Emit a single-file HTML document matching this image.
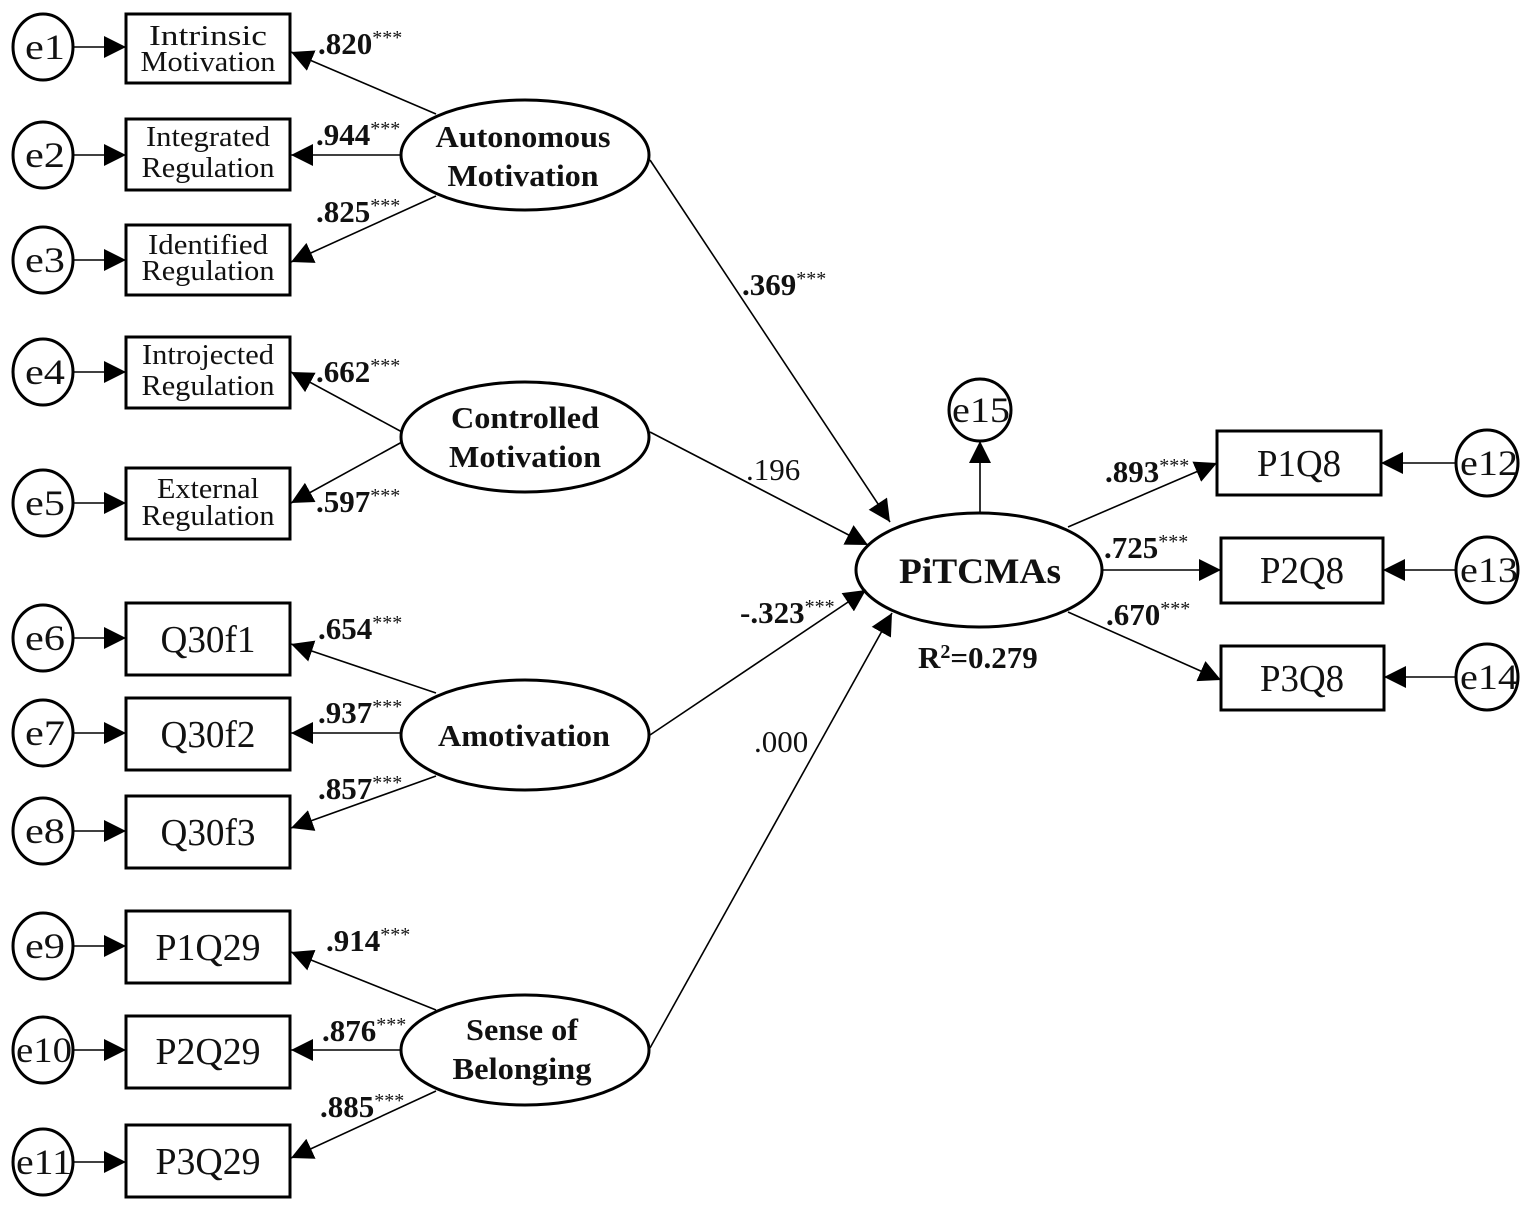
<!DOCTYPE html>
<html><head><meta charset="utf-8"><style>
html,body{margin:0;padding:0;background:#fff}
svg{display:block}
text{font-family:"Liberation Serif","Times New Roman",serif;fill:#111}
.b{font-weight:bold}
</style></head><body>
<svg width="1535" height="1205" viewBox="0 0 1535 1205" xmlns="http://www.w3.org/2000/svg">
<defs>
<marker id="a" markerUnits="userSpaceOnUse" markerWidth="24" markerHeight="22" refX="22" refY="11" orient="auto">
<path d="M0,0 L22,11 L0,22 Z" fill="#000"/></marker>
</defs>
<g stroke="#000" fill="none">
<g stroke-width="3">
<ellipse cx="43" cy="47" rx="30" ry="33"/>
<ellipse cx="43" cy="155" rx="30" ry="33"/>
<ellipse cx="43" cy="260" rx="30" ry="33"/>
<ellipse cx="43" cy="372" rx="30" ry="33"/>
<ellipse cx="43" cy="503" rx="30" ry="33"/>
<ellipse cx="43" cy="638" rx="30" ry="33"/>
<ellipse cx="43" cy="733" rx="30" ry="33"/>
<ellipse cx="43" cy="831" rx="30" ry="33"/>
<ellipse cx="43" cy="946" rx="30" ry="33"/>
<ellipse cx="43" cy="1050" rx="30" ry="33"/>
<ellipse cx="43" cy="1162" rx="30" ry="33"/>
<rect x="126" y="14" width="164" height="69"/>
<rect x="126" y="119" width="164" height="71"/>
<rect x="126" y="225" width="164" height="70"/>
<rect x="126" y="337" width="164" height="71"/>
<rect x="126" y="468" width="164" height="71"/>
<rect x="126" y="603" width="164" height="72"/>
<rect x="126" y="698" width="164" height="72"/>
<rect x="126" y="796" width="164" height="72"/>
<rect x="126" y="911" width="164" height="72"/>
<rect x="126" y="1016" width="164" height="72"/>
<rect x="126" y="1125" width="164" height="72"/>
<ellipse cx="525" cy="155" rx="124" ry="55"/>
<ellipse cx="525" cy="437" rx="124" ry="55"/>
<ellipse cx="525" cy="735" rx="124" ry="55"/>
<ellipse cx="525" cy="1050" rx="124" ry="55"/>
<ellipse cx="979" cy="570" rx="123" ry="57"/>
<ellipse cx="980" cy="410" rx="31" ry="31"/>
<ellipse cx="1487" cy="463" rx="31" ry="33"/>
<ellipse cx="1487" cy="570" rx="31" ry="33"/>
<ellipse cx="1487" cy="677" rx="31" ry="33"/>
<rect x="1217" y="431" width="164" height="64"/>
<rect x="1221" y="538" width="162" height="65"/>
<rect x="1221" y="646" width="163" height="64"/>
</g>
<g stroke-width="1.6" marker-end="url(#a)">
<line x1="73" y1="47" x2="126" y2="47"/>
<line x1="73" y1="155" x2="126" y2="155"/>
<line x1="73" y1="260" x2="126" y2="260"/>
<line x1="73" y1="372" x2="126" y2="372"/>
<line x1="73" y1="503" x2="126" y2="503"/>
<line x1="73" y1="638" x2="126" y2="638"/>
<line x1="73" y1="733" x2="126" y2="733"/>
<line x1="73" y1="831" x2="126" y2="831"/>
<line x1="73" y1="946" x2="126" y2="946"/>
<line x1="73" y1="1050" x2="126" y2="1050"/>
<line x1="73" y1="1162" x2="126" y2="1162"/>
<line x1="436" y1="114" x2="291" y2="52"/>
<line x1="401" y1="155" x2="291" y2="155"/>
<line x1="436" y1="196" x2="291" y2="262"/>
<line x1="402" y1="432" x2="291" y2="372"/>
<line x1="402" y1="442" x2="291" y2="503"/>
<line x1="436" y1="693" x2="291" y2="644"/>
<line x1="401" y1="733" x2="291" y2="733"/>
<line x1="436" y1="776" x2="291" y2="828"/>
<line x1="436" y1="1010" x2="291" y2="952"/>
<line x1="401" y1="1050" x2="291" y2="1050"/>
<line x1="436" y1="1091" x2="291" y2="1158"/>
<line x1="650" y1="160" x2="890" y2="522"/>
<line x1="650" y1="432" x2="868" y2="545"/>
<line x1="650" y1="735" x2="866" y2="590"/>
<line x1="650" y1="1048" x2="892" y2="613"/>
<line x1="980" y1="513" x2="980" y2="441"/>
<line x1="1068" y1="527" x2="1217" y2="463"/>
<line x1="1102" y1="570" x2="1221" y2="570"/>
<line x1="1068" y1="612" x2="1221" y2="680"/>
<line x1="1456" y1="463" x2="1381" y2="463"/>
<line x1="1456" y1="570" x2="1383" y2="570"/>
<line x1="1456" y1="677" x2="1384" y2="677"/>
</g>
</g>
<g font-size="36" text-anchor="middle" lengthAdjust="spacingAndGlyphs">
<text x="45" y="59" textLength="40" lengthAdjust="spacingAndGlyphs">e1</text>
<text x="45" y="167" textLength="40" lengthAdjust="spacingAndGlyphs">e2</text>
<text x="45" y="272" textLength="40" lengthAdjust="spacingAndGlyphs">e3</text>
<text x="45" y="384" textLength="40" lengthAdjust="spacingAndGlyphs">e4</text>
<text x="45" y="515" textLength="40" lengthAdjust="spacingAndGlyphs">e5</text>
<text x="45" y="650" textLength="40" lengthAdjust="spacingAndGlyphs">e6</text>
<text x="45" y="745" textLength="40" lengthAdjust="spacingAndGlyphs">e7</text>
<text x="45" y="843" textLength="40" lengthAdjust="spacingAndGlyphs">e8</text>
<text x="45" y="958" textLength="40" lengthAdjust="spacingAndGlyphs">e9</text>
<text x="44" y="1062" textLength="56" lengthAdjust="spacingAndGlyphs">e10</text>
<text x="44" y="1174" textLength="56" lengthAdjust="spacingAndGlyphs">e11</text>
<text x="981" y="422" textLength="58" lengthAdjust="spacingAndGlyphs">e15</text>
<text x="1489" y="475" textLength="58" lengthAdjust="spacingAndGlyphs">e12</text>
<text x="1489" y="582" textLength="58" lengthAdjust="spacingAndGlyphs">e13</text>
<text x="1489" y="689" textLength="58" lengthAdjust="spacingAndGlyphs">e14</text>
</g>
<g font-size="28" text-anchor="middle">
<text x="208" y="45" textLength="118" lengthAdjust="spacingAndGlyphs">Intrinsic</text>
<text x="208" y="71" textLength="135" lengthAdjust="spacingAndGlyphs">Motivation</text>
<text x="208" y="146" textLength="124" lengthAdjust="spacingAndGlyphs">Integrated</text>
<text x="208" y="177" textLength="133" lengthAdjust="spacingAndGlyphs">Regulation</text>
<text x="208" y="254" textLength="120" lengthAdjust="spacingAndGlyphs">Identified</text>
<text x="208" y="280" textLength="133" lengthAdjust="spacingAndGlyphs">Regulation</text>
<text x="208" y="364" textLength="132" lengthAdjust="spacingAndGlyphs">Introjected</text>
<text x="208" y="395" textLength="133" lengthAdjust="spacingAndGlyphs">Regulation</text>
<text x="208" y="498" textLength="102" lengthAdjust="spacingAndGlyphs">External</text>
<text x="208" y="525" textLength="133" lengthAdjust="spacingAndGlyphs">Regulation</text>
</g>
<g font-size="38" text-anchor="middle">
<text x="208" y="652" textLength="95" lengthAdjust="spacingAndGlyphs">Q30f1</text>
<text x="208" y="747" textLength="95" lengthAdjust="spacingAndGlyphs">Q30f2</text>
<text x="208" y="845" textLength="95" lengthAdjust="spacingAndGlyphs">Q30f3</text>
<text x="208" y="960" textLength="105" lengthAdjust="spacingAndGlyphs">P1Q29</text>
<text x="208" y="1064" textLength="105" lengthAdjust="spacingAndGlyphs">P2Q29</text>
<text x="208" y="1174" textLength="105" lengthAdjust="spacingAndGlyphs">P3Q29</text>
<text x="1299" y="476" textLength="84" lengthAdjust="spacingAndGlyphs">P1Q8</text>
<text x="1302" y="583" textLength="84" lengthAdjust="spacingAndGlyphs">P2Q8</text>
<text x="1302" y="691" textLength="84" lengthAdjust="spacingAndGlyphs">P3Q8</text>
</g>
<g font-size="31" text-anchor="middle" font-weight="bold">
<text x="523" y="147" textLength="175" lengthAdjust="spacingAndGlyphs">Autonomous</text>
<text x="523" y="186" textLength="151" lengthAdjust="spacingAndGlyphs">Motivation</text>
<text x="525" y="428" textLength="148" lengthAdjust="spacingAndGlyphs">Controlled</text>
<text x="525" y="467" textLength="152" lengthAdjust="spacingAndGlyphs">Motivation</text>
<text x="524" y="746" textLength="172" lengthAdjust="spacingAndGlyphs">Amotivation</text>
<text x="522" y="1040" textLength="112" lengthAdjust="spacingAndGlyphs">Sense of</text>
<text x="522" y="1079" textLength="139" lengthAdjust="spacingAndGlyphs">Belonging</text>
<text x="980" y="583" font-size="36" textLength="162" lengthAdjust="spacingAndGlyphs">PiTCMAs</text>
</g>
<g font-size="31">
<text x="318" y="54" class="b">.820<tspan font-size="20" font-weight="normal" dy="-10">***</tspan></text>
<text x="316" y="145" class="b">.944<tspan font-size="20" font-weight="normal" dy="-10">***</tspan></text>
<text x="316" y="222" class="b">.825<tspan font-size="20" font-weight="normal" dy="-10">***</tspan></text>
<text x="316" y="382" class="b">.662<tspan font-size="20" font-weight="normal" dy="-10">***</tspan></text>
<text x="316" y="512" class="b">.597<tspan font-size="20" font-weight="normal" dy="-10">***</tspan></text>
<text x="318" y="639" class="b">.654<tspan font-size="20" font-weight="normal" dy="-10">***</tspan></text>
<text x="318" y="723" class="b">.937<tspan font-size="20" font-weight="normal" dy="-10">***</tspan></text>
<text x="318" y="799" class="b">.857<tspan font-size="20" font-weight="normal" dy="-10">***</tspan></text>
<text x="326" y="951" class="b">.914<tspan font-size="20" font-weight="normal" dy="-10">***</tspan></text>
<text x="322" y="1041" class="b">.876<tspan font-size="20" font-weight="normal" dy="-10">***</tspan></text>
<text x="320" y="1117" class="b">.885<tspan font-size="20" font-weight="normal" dy="-10">***</tspan></text>
<text x="742" y="295" class="b">.369<tspan font-size="20" font-weight="normal" dy="-10">***</tspan></text>
<text x="746" y="480">.196</text>
<text x="740" y="623" class="b">-.323<tspan font-size="20" font-weight="normal" dy="-10">***</tspan></text>
<text x="754" y="752">.000</text>
<text x="1105" y="482" class="b">.893<tspan font-size="20" font-weight="normal" dy="-10">***</tspan></text>
<text x="1104" y="558" class="b">.725<tspan font-size="20" font-weight="normal" dy="-10">***</tspan></text>
<text x="1106" y="625" class="b">.670<tspan font-size="20" font-weight="normal" dy="-10">***</tspan></text>
<text x="918" y="668" class="b">R<tspan font-size="20" dy="-10">2</tspan><tspan dy="10">=0.279</tspan></text>
</g>
</svg>
</body></html>
